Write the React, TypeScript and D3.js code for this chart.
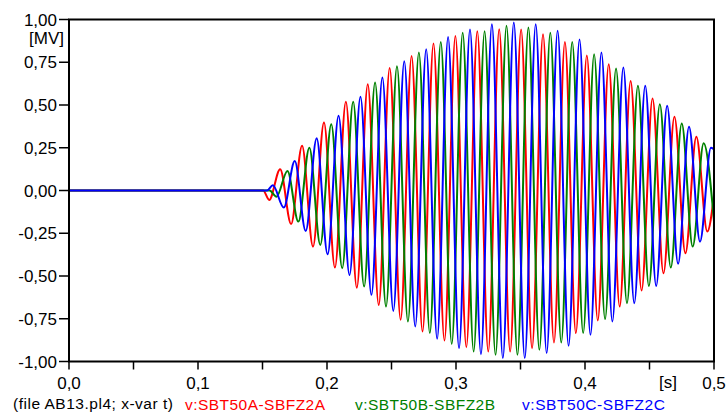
import React from "react";
import * as d3 from "d3";

// ---- data ----
const xTicks = [0, 0.1, 0.2, 0.3, 0.4, 0.5];
const xMinorTicks = [0.05, 0.15, 0.25, 0.35, 0.45];
const yTicks = [1, 0.75, 0.5, 0.25, 0, -0.25, -0.5, -0.75, -1];
const xTickLabels = ["0,0", "0,1", "0,2", "0,3", "0,4", "0,5"];
const yTickLabels = ["1,00", "0,75", "0,50", "0,25", "0,00", "-0,25", "-0,50", "-0,75", "-1,00"];

// sampling grid of the waveform extrema (s)
const halfPeriod = 0.00849;
const endTime = 0.5;

// phase A (red): successive extrema, starting with a trough
const onsetA = 0.1505;
const firstExtremumA = 0.1552;
const extremaA = [
  -0.055, 0.125, -0.196, 0.262, -0.328, 0.398, -0.451, 0.519, -0.568, 0.622,
  -0.669, 0.717, -0.756, 0.787, -0.824, 0.86, -0.877, 0.904, -0.916, 0.932,
  -0.942, 0.943, -0.942, 0.941, -0.922, 0.914, -0.889, 0.869, -0.834, 0.79,
  -0.76, 0.739, -0.679, 0.641, -0.585, 0.538, -0.484, 0.431, -0.367, 0.314,
  -0.24,
];
const endA = -0.03;

// phase B (green): starting with a trough
const onsetB = 0.1555;
const firstExtremumB = 0.16086;
const extremaB = [
  -0.036, 0.114, -0.182, 0.25, -0.318, 0.388, -0.455, 0.519, -0.562, 0.632,
  -0.679, 0.727, -0.766, 0.807, -0.834, 0.869, -0.897, 0.922, -0.942, 0.932,
  -0.961, 0.963, -0.961, 0.953, -0.932, 0.922, -0.889, 0.869, -0.834, 0.797,
  -0.752, 0.714, -0.659, 0.612, -0.558, 0.505, -0.451, 0.392, -0.328, 0.276,
];
const endB = -0.18;

// phase C (blue): starting with a peak
const onsetC = 0.1535;
const firstExtremumC = 0.15803;
const extremaC = [
  0.03, -0.1, 0.172, -0.237, 0.305, -0.373, 0.437, -0.494, 0.548, -0.61,
  0.661, -0.704, 0.756, -0.795, 0.826, -0.867, 0.898, -0.922, 0.941, -0.957,
  0.972, -0.98, 0.982, -0.98, 0.972, -0.951, 0.934, -0.908, 0.883, -0.844,
  0.807, -0.766, 0.72, -0.659, 0.612, -0.558, 0.495, -0.429, 0.373, -0.299,
  0.25,
];
const endC = 0.24;

const seriesNames = ["v:SBT50A-SBFZ2A", "v:SBT50B-SBFZ2B", "v:SBT50C-SBFZ2C"];
const seriesColors = ["#ff0000", "#008000", "#0000ff"];
const fileLabel = "(file AB13.pl4; x-var t)";

type Pt = [number, number];

function buildPoints(onset: number, first: number, extrema: number[], end: number): Pt[] {
  const pts: Pt[] = [[0, 0], [onset, 0]];
  extrema.forEach((v, i) => pts.push([first + i * halfPeriod, v]));
  pts.push([endTime, end]);
  return pts;
}

const W = 728;
const H = 416;
const left = 69;
const right = 714;
const top = 19.5;
const bottom = 361.5;

export default function App() {
  const x = d3.scaleLinear().domain([0, 0.5]).range([left, right]);
  const y = d3.scaleLinear().domain([-1, 1]).range([bottom, top]);
  const line = d3
    .line<Pt>()
    .x((d) => x(d[0]))
    .y((d) => y(d[1]))
    .curve(d3.curveMonotoneX);

  const series = [
    buildPoints(onsetA, firstExtremumA, extremaA, endA),
    buildPoints(onsetB, firstExtremumB, extremaB, endB),
    buildPoints(onsetC, firstExtremumC, extremaC, endC),
  ];

  const font = "'Liberation Sans', Arial, sans-serif";
  const legendX = [185, 355, 522];
  const legendW = [140, 140, 143];

  return (
    <svg
      width={W}
      height={H}
      style={{ position: "fixed", left: 0, top: 0, background: "#fff" }}
      fontFamily={font}
    >
      <rect x={0} y={0} width={W} height={H} fill="#fff" />
      <defs>
        <clipPath id="plot">
          <rect x={left} y={top - 2} width={right - left} height={bottom - top + 4} />
        </clipPath>
      </defs>
      <g clipPath="url(#plot)">
        {series.map((pts, i) => (
          <path
            key={i}
            d={line(pts) || ""}
            fill="none"
            stroke={seriesColors[i]}
            strokeWidth={2}
            strokeLinejoin="round"
          />
        ))}
      </g>
      {/* frame */}
      <rect
        x={left}
        y={top}
        width={right - left}
        height={bottom - top}
        fill="none"
        stroke="#000"
        strokeWidth={2}
      />
      {/* y axis */}
      {yTicks.map((t, i) => (
        <g key={"y" + i}>
          <line x1={left - 10} x2={left} y1={y(t)} y2={y(t)} stroke="#000" strokeWidth={1.5} />
          <text x={57} y={y(t)} dy="0.36em" textAnchor="end" fontSize={17} fill="#000">
            {yTickLabels[i]}
          </text>
        </g>
      ))}
      <text x={64} y={44} textAnchor="end" fontSize={17} fill="#000">
        [MV]
      </text>
      {/* x axis */}
      {xTicks.map((t, i) => (
        <g key={"x" + i}>
          <line x1={x(t)} x2={x(t)} y1={bottom} y2={bottom + 8} stroke="#000" strokeWidth={1.5} />
          <text x={x(t)} y={389} textAnchor="middle" fontSize={17} fill="#000">
            {xTickLabels[i]}
          </text>
        </g>
      ))}
      {xMinorTicks.map((t, i) => (
        <line key={"xm" + i} x1={x(t)} x2={x(t)} y1={bottom} y2={bottom + 8} stroke="#000" strokeWidth={1.5} />
      ))}
      <text x={668} y={388} textAnchor="middle" fontSize={17} fill="#000">
        [s]
      </text>
      {/* legend line */}
      <text x={13} y={409} fontSize={15.5} fill="#000" textLength={160} lengthAdjust="spacing">
        {fileLabel}
      </text>
      {seriesNames.map((n, i) => (
        <text
          key={n}
          x={legendX[i]}
          y={409.5}
          fontSize={15.5}
          fill={seriesColors[i]}
          textLength={legendW[i]}
          lengthAdjust="spacing"
        >
          {n}
        </text>
      ))}
    </svg>
  );
}
